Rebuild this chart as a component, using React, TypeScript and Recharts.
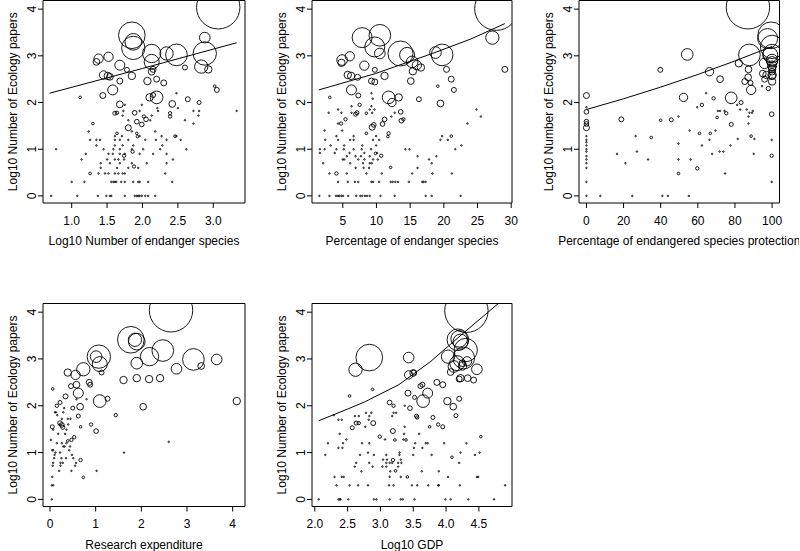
import { ScatterChart, Scatter, XAxis, YAxis, ZAxis, ReferenceArea } from "recharts";

type Circle = [number, number, number];
type Pair = [number, number];
type Row = [number, number[]];

// y ticks shared by all panels
const Y_TICKS = [0, 1, 2, 3, 4];
const Y_DOMAIN: [number, number] = [-0.152, 4.185];
const Y_TITLE = "Log10 Number of Ecology papers";

// weight of the plain dots (small countries)
const DOT_W = 0.12;

// ---- panel 1 : log10 number of endangered species
const p1Ticks = [1.0, 1.5, 2.0, 2.5, 3.0];
const p1Circles: Circle[] = [
    [3.07, 4.04, 100], [1.85, 3.44, 37.7], [1.87, 3.30, 14.7], [1.87, 3.17, 28.9], [2.13, 3.05, 17.8],
    [2.13, 2.87, 12], [2.34, 3.05, 9.4], [2.48, 3.02, 24.9], [2.88, 3.39, 6], [2.88, 3.05, 28.9],
    [2.83, 2.77, 9.4], [2.93, 2.71, 2.9], [1.38, 2.94, 4.6], [1.52, 2.98, 4.6], [1.35, 2.87, 2.4],
    [1.68, 2.80, 5.3], [1.78, 2.70, 1.3], [1.45, 2.59, 3.7], [1.51, 2.57, 2.9], [1.54, 2.55, 2.4],
    [1.85, 2.57, 2.9], [1.68, 2.46, 1.9], [2.07, 2.46, 2.9], [2.13, 2.66, 2.4], [2.15, 2.71, 1.9],
    [2.20, 2.50, 1.9], [2.30, 2.42, 1.9], [2.60, 2.75, 1.3], [1.58, 2.27, 5.3], [1.44, 2.15, 1.9],
    [1.12, 2.11, 0.36], [2.20, 2.11, 8.5], [2.10, 2.11, 2.9], [2.15, 2.16, 1.3], [2.42, 1.97, 2.4],
    [2.64, 2.07, 1.3], [2.80, 2.00, 0.85], [1.68, 1.96, 2.4], [3.05, 2.27, 1.3], [3.02, 2.35, 0.36],
    [1.61, 1.77, 0.85], [1.64, 1.78, 0.6], [1.89, 1.78, 1.15], [1.80, 1.46, 1.9], [1.92, 1.59, 1.15],
    [1.99, 1.53, 1.15], [2.05, 1.64, 1.15], [2.02, 1.70, 0.6], [1.30, 1.55, 0.36], [1.64, 1.34, 0.36],
    [1.92, 1.34, 0.36], [1.93, 1.27, 0.36], [2.39, 1.70, 0.6], [2.39, 1.77, 0.6], [2.46, 1.28, 0.36],
    [1.86, 0.95, 0.6], [1.74, 0.86, 0.6], [1.88, 0.63, 0.6], [1.26, 0.48, 0.36],
];
const p1Dots: Row[] = [
    [0, [0.71, 1.08, 1.37, 1.49, 1.54, 1.56, 1.75, 1.89, 1.92, 1.94, 1.96, 1.99, 2.04, 2.08, 2.18]],
    [0.3, [1.0, 1.18, 1.56, 1.59, 1.61, 1.63, 1.7, 1.75, 1.87, 1.94, 1.96, 2.08, 2.42]],
    [0.48, [1.38, 1.47, 1.52, 1.61, 1.66, 1.72, 1.75, 2.32]],
    [0.6, [1.41, 1.64, 1.8, 1.94]],
    [0.7, [1.41, 1.54, 1.68, 1.85, 2.06, 2.34]],
    [0.78, [1.14, 1.5, 1.61, 1.66, 1.74, 2.43]],
    [0.9, [1.2, 1.52, 1.58, 1.68, 1.75, 1.96, 2.15, 2.34]],
    [1.0, [0.78, 1.45, 1.59, 1.68, 1.85, 2.01, 2.25, 2.62]],
    [1.08, [1.35, 1.61, 1.72, 1.87, 2.28]],
    [1.2, [1.26, 1.35, 1.4, 1.61, 1.68, 1.8, 2.04, 2.19, 2.34, 2.54]],
    [1.28, [1.61, 1.71, 1.96, 2.27, 2.48]],
    [1.38, [1.24, 1.85, 2.18]],
    [1.55, [2.72]],
    [1.62, [1.8, 2.11, 2.6]],
    [1.72, [1.72, 2.13, 2.79]],
    [1.82, [1.73, 1.96, 2.22, 2.72, 2.8, 3.33]],
    [1.88, [2.21, 2.5]],
    [1.95, [1.75, 1.99]],
    [2.2, [2.48]],
];
const p1Fit: Pair[] = [[0.69, 2.2], [2.0, 2.73], [3.33, 3.28]];

// ---- panel 2 : percentage of endangered species
const p2Ticks = [5, 10, 15, 20, 25, 30];
const p2Circles: Circle[] = [
    [27.8, 4.01, 100], [7.87, 3.39, 21.2], [10.5, 3.44, 24.9], [9.75, 3.19, 21.2], [10.5, 3.05, 6],
    [13.56, 3.05, 33.2], [14.55, 3.02, 12], [15.3, 2.87, 7.2], [18.76, 3.07, 7.2], [19.75, 3.02, 24.9],
    [27.2, 3.39, 9.4], [4.9, 2.91, 6], [4.8, 2.85, 2.9], [6.04, 2.99, 4.6], [8.2, 2.79, 4.6],
    [5.74, 2.59, 2.9], [6.24, 2.57, 2.9], [7.2, 2.54, 1.9], [9.75, 2.7, 1.3], [11.2, 2.57, 2.9],
    [15.4, 2.67, 2.9], [16.6, 2.75, 2.9], [16.0, 2.8, 4.6], [20.4, 2.71, 1.9], [29.06, 2.71, 1.9],
    [6.29, 2.27, 5.3], [9.26, 2.46, 1.9], [9.75, 2.44, 1.9], [15.1, 2.46, 2.4], [21.1, 2.5, 1.9],
    [21.5, 2.27, 1.3], [7.3, 2.15, 1.3], [3.07, 2.11, 0.36], [11.8, 2.11, 8.5], [12.3, 2.0, 3.7],
    [13.3, 2.11, 2.9], [16.3, 2.07, 1.3], [19.5, 1.98, 2.4], [19.1, 2.35, 0.36], [7.5, 1.95, 0.6],
    [6.9, 1.75, 0.85], [7.1, 1.78, 0.85], [8.5, 1.77, 0.36], [13.6, 1.8, 1.15], [13.7, 1.61, 1.15],
    [14.0, 1.64, 0.6], [5.4, 1.64, 0.6], [4.75, 1.55, 0.6], [11.2, 1.64, 1.15], [10.9, 1.54, 1.15],
    [9.36, 1.47, 1.9], [9.6, 1.52, 1.15], [11.8, 1.34, 0.6], [11.7, 1.27, 0.36], [8.5, 1.34, 0.36],
    [21.1, 1.28, 0.36], [10.7, 0.86, 0.6], [12.1, 0.61, 0.36], [4.06, 0.48, 0.6], [9.85, 0.91, 0.36],
];
const p2Dots: Row[] = [
    [0, [1.53, 3.02, 4.0, 4.3, 4.5, 4.8, 5.05, 5.8, 7.0, 7.6, 7.9, 8.3, 8.6, 9.0, 10.6, 12.7, 17.3, 18.2, 22.5]],
    [0.3, [4.3, 5.74, 6.8, 7.3, 9.26, 9.5, 10.4, 12.1, 12.4, 12.8, 13.2, 14.8, 16.8, 17.0, 17.3]],
    [0.48, [3.02, 5.6, 8.5, 10.8, 15.3, 18.3, 21.2]],
    [0.6, [6.9, 8.1, 8.9, 16.1]],
    [0.7, [2.08, 6.1, 8.0, 9.0, 9.3, 18.2]],
    [0.78, [5.0, 5.2, 7.3, 8.2, 9.5, 10.2, 17.8]],
    [0.85, [5.6, 6.9, 7.7, 9.0, 16.1, 18.9]],
    [0.92, [1.6, 3.8, 6.0, 8.2, 10.1]],
    [1.0, [1.6, 2.3, 4.06, 5.15, 6.6, 7.8, 9.2, 14.3, 14.9, 21.7]],
    [1.08, [3.2, 5.2, 7.9, 9.95, 22.6]],
    [1.2, [2.4, 4.3, 6.1, 6.6, 9.5, 10.4, 19.5, 20.6]],
    [1.28, [4.06, 6.6, 9.95, 19.75]],
    [1.4, [2.3, 4.9]],
    [1.55, [4.3, 23.5]],
    [1.7, [12.2, 25.5]],
    [1.78, [2.9, 4.8, 6.3, 9.36, 12.7]],
    [1.85, [4.3, 9.0, 9.7, 24.85]],
    [1.92, [6.3, 9.26]],
    [2.08, [9.45]],
    [2.2, [9.26]],
];
const p2Fit: Pair[] = [[1.44, 2.27], [9.85, 2.62], [18.3, 3.05], [24.0, 3.36], [29.06, 3.69]];

// ---- panel 3 : percentage of endangered species protection
const p3Ticks = [0, 20, 40, 60, 80, 100];
const p3Circles: Circle[] = [
    [87, 4.04, 100], [87.8, 3.02, 24.9], [99.5, 3.44, 37.7], [97.6, 3.37, 21.2], [100, 3.19, 28.9],
    [100, 3.05, 17.8], [99, 3.02, 12], [100, 2.91, 7.2], [100, 2.87, 6], [100, 2.79, 4.6],
    [100, 2.75, 2.9], [100, 2.71, 2.9], [100, 2.66, 2.4], [100, 2.59, 3.7], [100, 2.57, 2.9],
    [100, 2.45, 2.9], [96, 2.84, 6], [95, 2.62, 2.4], [96, 2.5, 1.9], [97, 2.59, 2.9], [98, 2.3, 1.0],
    [54.3, 3.03, 7.2], [39.8, 2.7, 1.3], [66.3, 2.66, 3.7], [72.0, 2.5, 2.4], [52.3, 2.11, 3.7],
    [78.0, 2.1, 7.2], [82.1, 2.84, 2.9], [87.3, 2.71, 2.4], [87.1, 2.54, 2.4], [85.3, 2.45, 1.9],
    [88.7, 2.27, 4.6], [88.4, 2.42, 1.3], [0, 2.15, 1.9], [0, 1.8, 1.15], [0, 1.59, 1.15],
    [0, 1.54, 1.15], [0, 1.46, 1.9], [18.8, 1.64, 1.3], [45.7, 1.63, 0.85], [68.5, 2.09, 0.6],
    [62.2, 1.95, 0.6], [83.3, 2.0, 0.85], [75.3, 1.77, 0.6], [70.4, 1.68, 0.36], [78.0, 1.53, 0.85],
    [99.8, 1.75, 1.15], [60.9, 1.34, 0.36], [66.7, 1.34, 0.36], [88.7, 1.28, 0.36], [34.9, 1.25, 0.36],
    [59.7, 0.59, 0.6], [49.6, 0.48, 0.36], [99.8, 0.86, 0.6], [40.0, 1.62, 0.36],
];
const p3Dots: Row[] = [
    [0, [0, 7.5, 24.7, 40.9, 43.9, 55.2]],
    [0.3, [0, 99.8]],
    [0.48, [74.7]],
    [0.6, [0]],
    [0.7, [0, 21.0]],
    [0.78, [0, 33.2, 49.6, 56.1]],
    [0.85, [0]],
    [0.9, [16.5, 67.7, 90.1]],
    [0.95, [0, 27.2, 71.7, 73.8]],
    [1.0, [0]],
    [1.08, [0, 62.2, 77.6]],
    [1.12, [49.6]],
    [1.15, [0]],
    [1.2, [0, 66.3, 99.8]],
    [1.22, [81.5, 90.5]],
    [1.28, [0, 26.5]],
    [1.4, [55.6, 69.5]],
    [1.55, [87.3]],
    [1.7, [49.6, 87.3]],
    [1.78, [87.8, 89.2]],
    [1.82, [70.8, 72.0, 74.4, 89.6]],
    [1.85, [82.8, 86.4]],
    [1.9, [0, 59.7]],
    [1.95, [81.2]],
    [2.2, [64.5]],
    [2.35, [94.6]],
];
const p3Fit: Pair[] = [[0, 1.85], [20, 2.08], [40, 2.33], [60, 2.6], [80, 2.89], [100, 3.2]];

// ---- panel 4 : research expenditure
const p4Ticks = [0, 1, 2, 3, 4];
const p4Circles: Circle[] = [
    [2.65, 4.04, 100], [1.77, 3.41, 37.7], [1.9, 3.37, 14.7], [1.86, 3.41, 9.4], [1.07, 3.05, 28.9],
    [1.01, 3.05, 7.2], [1.09, 2.89, 12], [2.47, 3.18, 24.9], [2.18, 3.05, 17.8], [3.14, 2.99, 24.9],
    [3.65, 2.99, 6], [1.9, 2.91, 7.2], [2.77, 2.79, 6], [3.31, 2.85, 2.4], [0.73, 2.78, 9.4],
    [0.39, 2.71, 2.9], [0.56, 2.66, 4.6], [1.13, 2.71, 1.3], [0.62, 2.27, 5.3], [0.58, 2.45, 2.4],
    [0.46, 2.42, 1.3], [1.61, 2.55, 2.9], [1.9, 2.59, 2.9], [2.17, 2.57, 2.9], [2.41, 2.59, 2.9],
    [0.86, 2.5, 1.9], [0.88, 2.45, 1.3], [1.09, 2.1, 8.5], [1.26, 2.15, 1.3], [0.66, 1.98, 2.4],
    [2.04, 1.98, 2.4], [4.09, 2.1, 2.9], [0.34, 2.2, 1.3], [0.22, 2.07, 0.85], [0.15, 2.0, 0.6],
    [0.5, 1.95, 0.85], [0.62, 1.78, 0.85], [1.44, 1.8, 0.6], [0.22, 1.63, 1.15], [0.26, 1.59, 1.15],
    [0.05, 1.55, 0.85], [0.28, 1.54, 0.85], [0.67, 1.55, 0.36], [0.9, 1.6, 0.6], [1.01, 1.46, 1.15],
    [0.47, 1.27, 0.6], [0.53, 1.33, 0.6], [0.39, 1.25, 0.36], [0.67, 0.84, 0.6], [0.73, 0.47, 0.36],
    [0.06, 2.36, 0.36],
];
const p4Dots: Row[] = [
    [0, [0.04]],
    [0.3, [0.04, 0.07]],
    [0.48, [0.05]],
    [0.61, [0.2, 0.47, 1.02]],
    [0.72, [0.06, 0.23, 0.55]],
    [0.78, [0.07, 0.23, 0.28, 0.57]],
    [0.88, [0.09, 0.25, 0.35, 0.51]],
    [0.95, [0.1, 0.48]],
    [1.0, [0.12, 0.22, 1.62]],
    [1.05, [0.05, 0.07, 0.42]],
    [1.13, [0.29, 0.32, 0.44]],
    [1.2, [0.15, 0.26, 0.36]],
    [1.23, [2.6]],
    [1.27, [0.02]],
    [1.4, [0.18, 0.33]],
    [1.49, [0.07, 0.36]],
    [1.6, [0.21, 0.4]],
    [1.72, [0.26, 0.39, 0.45]],
    [1.8, [0.16]],
    [1.86, [0.11, 0.13, 0.29]],
    [1.95, [0.31]],
    [2.14, [0.58, 0.8]],
];

// ---- panel 5 : log10 GDP
const p5Ticks = [2.0, 2.5, 3.0, 3.5, 4.0, 4.5];
const p5Circles: Circle[] = [
    [4.31, 4.03, 100], [2.83, 3.03, 37.7], [2.62, 2.77, 9.4], [3.43, 3.03, 6], [3.43, 2.66, 3.7],
    [3.51, 2.71, 1.3], [3.5, 2.7, 2.4], [4.18, 3.41, 24.9], [4.22, 3.37, 12], [4.2, 3.43, 14.7],
    [4.3, 3.19, 28.9], [4.03, 3.05, 9.4], [4.27, 3.02, 24.9], [4.17, 2.91, 12], [4.12, 2.84, 7.2],
    [4.47, 2.78, 6], [4.07, 2.72, 2.4], [4.25, 2.91, 2.4], [4.22, 2.59, 2.9], [4.33, 2.59, 2.4],
    [4.42, 2.55, 1.9], [4.2, 2.57, 1.9], [4.25, 2.85, 3.7], [4.32, 2.95, 4.6], [3.72, 2.27, 5.3],
    [3.65, 2.1, 8.5], [4.02, 2.1, 2.9], [4.11, 1.98, 2.4], [4.2, 2.15, 1.3], [3.86, 2.5, 1.9],
    [3.95, 2.45, 1.9], [3.61, 2.42, 1.3], [3.64, 2.45, 1.3], [3.42, 2.27, 1.9], [3.45, 1.95, 1.15],
    [3.52, 2.18, 0.85], [3.14, 2.07, 1.15], [3.2, 2.0, 0.6], [3.8, 1.75, 0.85], [3.55, 1.78, 0.85],
    [3.56, 1.75, 0.6], [4.15, 1.79, 0.85], [3.95, 1.55, 0.85], [3.88, 1.6, 0.6], [3.75, 1.55, 0.36],
    [2.89, 1.63, 1.3], [2.63, 1.63, 0.85], [2.57, 1.53, 0.85], [2.67, 1.63, 0.6], [3.19, 1.46, 1.3],
    [2.99, 1.34, 0.6], [3.22, 1.27, 0.36], [3.39, 1.27, 0.36], [4.53, 1.34, 0.36], [3.19, 0.84, 0.6],
    [3.23, 0.61, 0.36], [3.41, 0.48, 0.36], [2.88, 2.35, 0.36], [2.53, 2.21, 0.36], [4.09, 0.9, 0.36],
];
const p5Dots: Row[] = [
    [0, [2.06, 2.36, 2.38, 2.39, 2.51, 2.9, 2.94, 3.14, 3.31, 3.34, 3.52, 3.99, 4.07, 4.34, 4.73]],
    [0.3, [2.33, 2.53, 2.66, 2.81, 3.13, 3.2, 3.48, 3.56, 3.73, 3.88, 3.89, 4.21, 4.9]],
    [0.48, [2.3, 2.41, 2.44, 3.14, 3.31, 4.03, 4.47, 4.49]],
    [0.6, [2.71, 3.15, 3.63, 3.89]],
    [0.7, [2.61, 2.88, 3.03, 3.09, 3.27]],
    [0.78, [2.63, 2.83, 3.09, 3.14, 3.18, 3.27, 3.32, 4.2]],
    [0.85, [3.04, 3.1, 3.31]],
    [0.95, [2.16, 2.69, 2.9, 3.09, 3.29, 3.5, 3.78, 4.44]],
    [1.0, [2.81, 3.29, 4.22, 4.51]],
    [1.1, [2.36, 2.42, 3.51, 3.64]],
    [1.2, [2.2, 2.43, 2.72, 2.83, 3.53, 3.69, 3.72, 3.97, 4.31]],
    [1.28, [2.48, 3.07, 3.35]],
    [1.4, [2.38, 3.36, 3.59]],
    [1.55, [2.77, 3.37]],
    [1.7, [2.36, 2.41, 2.82]],
    [1.78, [2.61, 2.67, 2.83, 3.18]],
    [1.8, [2.29]],
    [1.85, [2.78, 2.86, 3.2, 3.24]],
    [2.0, [3.37]],
];
const p5Fit: Pair[] = [[2.06, 1.68], [2.5, 1.93], [2.77, 2.09], [3.28, 2.45], [3.76, 2.94], [4.27, 3.56], [4.8, 4.19]];

const FONT = "'Liberation Sans', Arial, Helvetica, sans-serif";

const YTick = (props: any) => {
    const { x, y, payload } = props;
    return (
        <text
            x={x}
            y={y}
            transform={`rotate(-90, ${x}, ${y})`}
            textAnchor="middle"
            fontSize={12}
            fill="#000"
            fontFamily={FONT}
        >
            {payload.value}
        </text>
    );
};

interface PanelProps {
    left: number;
    top: number;
    padTop: number;
    boxW: number;
    boxH: number;
    xDomain: [number, number];
    xTicks: number[];
    decimals: number;
    xTitle: string;
    circles: Circle[];
    dots: Row[];
    fit?: Pair[];
}

function Panel({ left, top, padTop, boxW, boxH, xDomain, xTicks, decimals, xTitle, circles, dots, fit }: PanelProps) {
    const points = [
        ...circles.map(([x, y, w]) => ({ x, y, w })),
        ...dots.flatMap(([y, xs]) => xs.map((x) => ({ x, y, w: DOT_W }))),
    ];
    const line = fit ? fit.map(([x, y]) => ({ x, y })) : null;

    return (
        <div style={{ position: "absolute", left, top }}>
            <ScatterChart
                width={43 + boxW + 20}
                height={padTop + boxH + 46}
                margin={{ top: padTop, right: 20, bottom: 0, left: 0 }}
            >
                <XAxis
                    type="number"
                    dataKey="x"
                    domain={xDomain}
                    ticks={xTicks}
                    allowDataOverflow
                    interval={0}
                    height={46}
                    axisLine={false}
                    tickSize={5}
                    tickMargin={8}
                    tickLine={{ stroke: "#000" }}
                    tick={{ fill: "#000", fontSize: 12, fontFamily: FONT }}
                    tickFormatter={(v: number) => v.toFixed(decimals)}
                    label={{ value: xTitle, position: "insideBottom", offset: 4, fill: "#000", fontSize: 12, fontFamily: FONT }}
                />
                <YAxis
                    type="number"
                    dataKey="y"
                    domain={Y_DOMAIN}
                    ticks={Y_TICKS}
                    allowDataOverflow
                    interval={0}
                    width={43}
                    axisLine={false}
                    tickSize={5}
                    tickMargin={2}
                    tickLine={{ stroke: "#000" }}
                    tick={YTick}
                    label={{
                        value: Y_TITLE,
                        angle: -90,
                        position: "insideLeft",
                        offset: 13,
                        fill: "#000",
                        fontSize: 12,
                        fontFamily: FONT,
                        style: { textAnchor: "middle" },
                    }}
                />
                <ZAxis type="number" dataKey="w" domain={[0, 100]} range={[0, 1479]} />
                <ReferenceArea
                    x1={xDomain[0]}
                    x2={xDomain[1]}
                    y1={Y_DOMAIN[0]}
                    y2={Y_DOMAIN[1]}
                    fill="none"
                    stroke="#000"
                    strokeWidth={1}
                    ifOverflow="visible"
                />
                <Scatter
                    data={points}
                    shape="circle"
                    fill="none"
                    stroke="#000"
                    strokeWidth={0.9}
                    isAnimationActive={false}
                />
                {line && (
                    <Scatter
                        data={line}
                        line={{ stroke: "#000", strokeWidth: 1 }}
                        shape={() => <g />}
                        isAnimationActive={false}
                    />
                )}
            </ScatterChart>
        </div>
    );
}

export default function App() {
    return (
        <div
            style={{
                position: "absolute",
                left: 0,
                top: 0,
                width: 800,
                height: 551,
                overflow: "hidden",
                background: "#fff",
                fontFamily: FONT,
            }}
        >
            <Panel left={0} top={0} padTop={0.5} boxW={202} boxH={202.5} xDomain={[0.595, 3.448]} xTicks={p1Ticks} decimals={1}
                xTitle="Log10 Number of endanger species" circles={p1Circles} dots={p1Dots} fit={p1Fit} />
            <Panel left={268.5} top={0} padTop={0.5} boxW={200} boxH={202.5} xDomain={[0.43, 30.12]} xTicks={p2Ticks} decimals={0}
                xTitle="Percentage of endanger species" circles={p2Circles} dots={p2Dots} fit={p2Fit} />
            <Panel left={535.5} top={0} padTop={0.5} boxW={200.5} boxH={202.5} xDomain={[-4, 104]} xTicks={p3Ticks} decimals={0}
                xTitle="Percentage of endangered species protection" circles={p3Circles} dots={p3Dots} fit={p3Fit} />
            <Panel left={0} top={275} padTop={28.5} boxW={202} boxH={203} xDomain={[-0.153, 4.27]} xTicks={p4Ticks} decimals={0}
                xTitle="Research expenditure" circles={p4Circles} dots={p4Dots} />
            <Panel left={268.5} top={275} padTop={28.5} boxW={200} boxH={203} xDomain={[1.957, 5.005]} xTicks={p5Ticks} decimals={1}
                xTitle="Log10 GDP" circles={p5Circles} dots={p5Dots} fit={p5Fit} />
        </div>
    );
}
